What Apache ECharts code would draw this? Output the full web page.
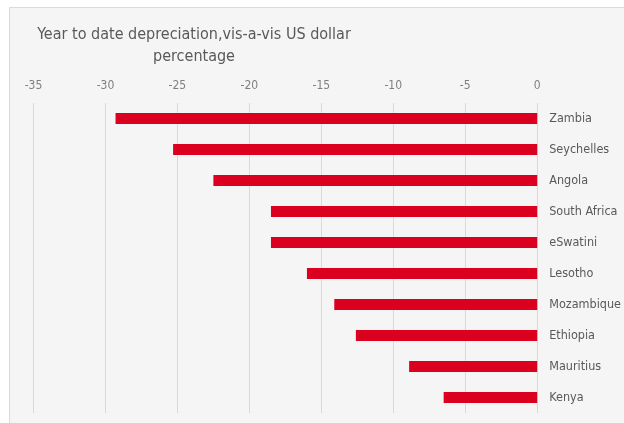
<!DOCTYPE html>
<html>
<head>
<meta charset="utf-8">
<script src="https://cdn.jsdelivr.net/npm/echarts@6/dist/echarts.min.js"></script>
<style>
  html, body { margin: 0; padding: 0; background: #ffffff; }
  #chart { width: 624px; height: 423px; }
</style>
</head>
<body>
<div id="chart"></div>
<script>
// Year-to-date currency depreciation against the US dollar, in percent
const countries = ['Zambia', 'Seychelles', 'Angola', 'South Africa', 'eSwatini',
                   'Lesotho', 'Mozambique', 'Ethiopia', 'Mauritius', 'Kenya'];
const depreciation = [-29.3, -25.3, -22.5, -18.5, -18.5, -16.0, -14.1, -12.6, -8.9, -6.5];
const titleLines = ['Year to date depreciation,vis-a-vis US dollar', 'percentage'];

const FONT = "'Liberation Sans Narrow', 'DejaVu Sans Condensed', sans-serif";

const chart = echarts.init(document.getElementById('chart'), null, { renderer: 'canvas' });

chart.setOption({
  backgroundColor: '#ffffff',
  animation: false,
  graphic: [{
    type: 'rect',
    z: -10,
    silent: true,
    shape: { x: 9.5, y: 7.5, width: 630, height: 430 },
    style: { fill: '#f5f5f5', stroke: '#dadada', lineWidth: 1 }
  }],
  title: {
    text: titleLines.join('\n'),
    left: 189,
    top: 19,
    textAlign: 'center',
    textStyle: {
      fontFamily: FONT,
      fontSize: 16,
      lineHeight: 22,
      fontWeight: 'normal',
      color: '#595959'
    }
  },
  grid: {
    left: 33.5,
    right: 82,
    top: 103,
    height: 310,
    containLabel: false
  },
  xAxis: {
    type: 'value',
    position: 'top',
    min: -35,
    max: 0,
    interval: 5,
    axisLine: { show: false },
    axisTick: { show: false },
    axisLabel: {
      margin: 11,
      fontFamily: FONT,
      fontSize: 12,
      color: '#7f7f7f'
    },
    splitLine: { show: true, lineStyle: { color: '#d9d9d9', width: 1 } }
  },
  yAxis: {
    type: 'category',
    position: 'right',
    inverse: true,
    data: countries,
    axisLine: { show: false },
    axisTick: { show: false },
    axisLabel: {
      margin: 12,
      fontFamily: FONT,
      fontSize: 12.5,
      color: '#595959'
    },
    splitLine: { show: false }
  },
  series: [{
    type: 'bar',
    data: depreciation,
    barWidth: 11,
    itemStyle: { color: '#dc0020' }
  }]
});
</script>
</body>
</html>
